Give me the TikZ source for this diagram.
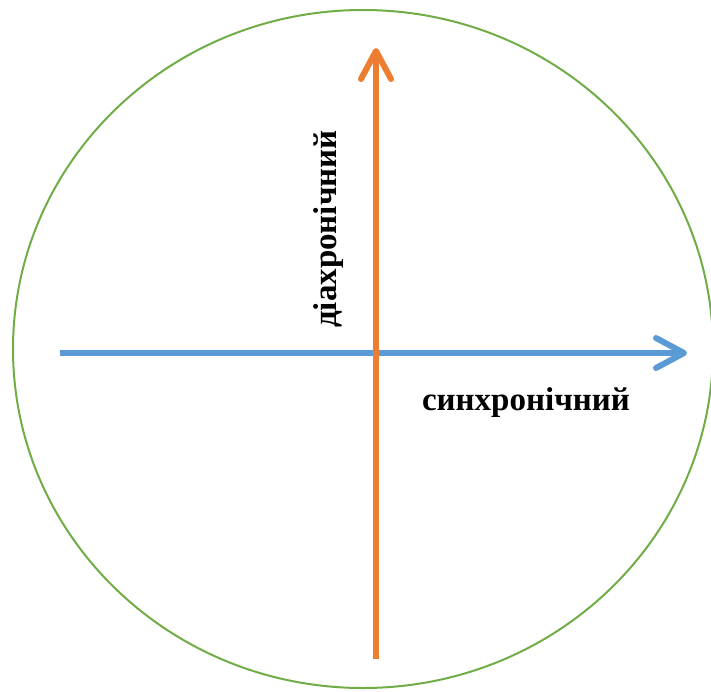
\documentclass[tikz,border=0pt]{standalone}
\usepackage{fontspec}
\setmainfont{Liberation Serif}
\usetikzlibrary{arrows.meta}
\definecolor{ringgreen}{HTML}{70AD47}
\definecolor{synblue}{HTML}{5B9BD5}
\definecolor{diaorange}{HTML}{ED7D31}
\tikzset{
  axisarr/.style={line width=6pt,
                  -{Straight Barb[length=28pt, width=30pt, line width=0pt 1, round]}},
  lbl/.style={font=\fontsize{33}{36}\selectfont\bfseries, inner sep=0pt}
}
\begin{document}
\begin{tikzpicture}[x=1pt, y=-1pt]
    \useasboundingbox (0,0) rectangle (711,691);
    % ring
    \draw[ringgreen, line width=2pt] (363,349) ellipse [x radius=350pt, y radius=339pt];
    % axes
    \coordinate (synstart) at (60,353);
    \coordinate (synend) at (687,353);
    \coordinate (diastart) at (376,659);
    \coordinate (diaend) at (376,48);
    \draw[axisarr, synblue] (synstart) -- (synend);
    \draw[axisarr, diaorange] (diastart) -- (diaend);
    % labels
    \node[lbl, rotate=90] (dia) at (329,229) {діахронічний};
    \node[lbl] (syn) at (526,403) {синхронічний};
\end{tikzpicture}
\end{document}
